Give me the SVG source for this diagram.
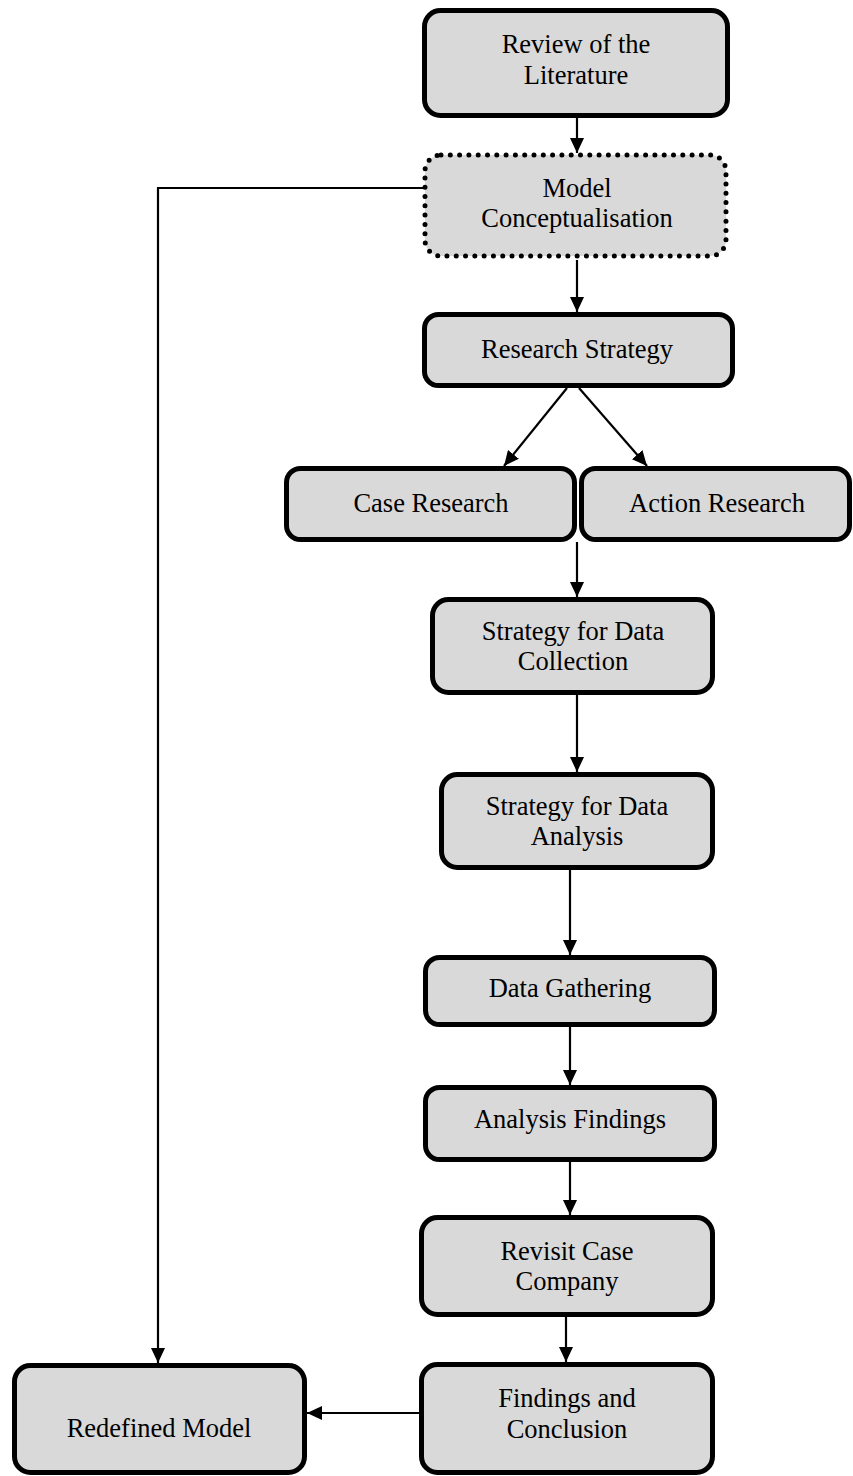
<svg xmlns="http://www.w3.org/2000/svg" width="853" height="1476" viewBox="0 0 853 1476">
  <style>
    .box { fill: #d9d9d9; stroke: #000; stroke-width: 5; }
    .dotted { fill: #d9d9d9; stroke: #000; stroke-width: 5; stroke-dasharray: 0 9.3; stroke-linecap: round; }
    .lbl { font-family: "Liberation Serif", "Times New Roman", serif; font-size: 26.5px; fill: #000; text-anchor: middle; }
    .edge { fill: none; stroke: #000; stroke-width: 2.2; }
  </style>
  <defs>
    <marker id="arrow" markerUnits="userSpaceOnUse" markerWidth="16" markerHeight="14" refX="15" refY="7" orient="auto">
      <path d="M0,0 L15,7 L0,14 Z" fill="#000"/>
    </marker>
  </defs>

  <!-- connectors -->
  <g id="connectors">
    <line class="edge" x1="577" y1="118" x2="577" y2="153" marker-end="url(#arrow)"/>
    <line class="edge" x1="577" y1="260" x2="577" y2="312" marker-end="url(#arrow)"/>
    <line class="edge" x1="567" y1="388" x2="504" y2="466" marker-end="url(#arrow)"/>
    <line class="edge" x1="579" y1="388" x2="647" y2="466" marker-end="url(#arrow)"/>
    <line class="edge" x1="577" y1="542" x2="577" y2="597" marker-end="url(#arrow)"/>
    <line class="edge" x1="577" y1="695" x2="577" y2="772" marker-end="url(#arrow)"/>
    <line class="edge" x1="570" y1="870" x2="570" y2="955" marker-end="url(#arrow)"/>
    <line class="edge" x1="570" y1="1027" x2="570" y2="1085" marker-end="url(#arrow)"/>
    <line class="edge" x1="570" y1="1162" x2="570" y2="1215" marker-end="url(#arrow)"/>
    <line class="edge" x1="566" y1="1317" x2="566" y2="1362" marker-end="url(#arrow)"/>
    <line class="edge" x1="425" y1="1413" x2="307" y2="1413" marker-end="url(#arrow)"/>
    <polyline class="edge" points="423,188 158,188 158,1363" marker-end="url(#arrow)"/>
  </g>

  <g id="review">
    <rect class="box" x="424.5" y="10.5" width="303" height="105" rx="16"/>
    <text class="lbl" x="576" y="53">Review of the</text>
    <text class="lbl" x="576" y="84">Literature</text>
  </g>

  <g id="model">
    <rect class="dotted" x="425" y="155" width="301" height="101" rx="16"/>
    <text class="lbl" x="577" y="197">Model</text>
    <text class="lbl" x="577" y="227">Conceptualisation</text>
  </g>

  <g id="research-strategy">
    <rect class="box" x="424.5" y="314.5" width="308" height="71" rx="14"/>
    <text class="lbl" x="577" y="358">Research Strategy</text>
  </g>

  <g id="case-research">
    <rect class="box" x="286.5" y="468.5" width="288" height="71" rx="14"/>
    <text class="lbl" x="431" y="512">Case Research</text>
  </g>

  <g id="action-research">
    <rect class="box" x="581.5" y="468.5" width="268" height="71" rx="14"/>
    <text class="lbl" x="717" y="512">Action Research</text>
  </g>

  <g id="data-collection">
    <rect class="box" x="432.5" y="599.5" width="280" height="93" rx="16"/>
    <text class="lbl" x="573" y="640">Strategy for Data</text>
    <text class="lbl" x="573" y="670">Collection</text>
  </g>

  <g id="data-analysis">
    <rect class="box" x="441.5" y="774.5" width="271" height="93" rx="16"/>
    <text class="lbl" x="577" y="815">Strategy for Data</text>
    <text class="lbl" x="577" y="845">Analysis</text>
  </g>

  <g id="data-gathering">
    <rect class="box" x="425.5" y="957.5" width="289" height="67" rx="14"/>
    <text class="lbl" x="570" y="997">Data Gathering</text>
  </g>

  <g id="analysis-findings">
    <rect class="box" x="425.5" y="1087.5" width="289" height="72" rx="14"/>
    <text class="lbl" x="570" y="1128">Analysis Findings</text>
  </g>

  <g id="revisit">
    <rect class="box" x="421.5" y="1217.5" width="291" height="97" rx="16"/>
    <text class="lbl" x="567" y="1260">Revisit Case</text>
    <text class="lbl" x="567" y="1290">Company</text>
  </g>

  <g id="findings-conclusion">
    <rect class="box" x="421.5" y="1364.5" width="291" height="108" rx="16"/>
    <text class="lbl" x="567" y="1407">Findings and</text>
    <text class="lbl" x="567" y="1438">Conclusion</text>
  </g>

  <g id="redefined-model">
    <rect class="box" x="14.5" y="1365.5" width="290" height="107" rx="16"/>
    <text class="lbl" x="159" y="1437">Redefined Model</text>
  </g>
</svg>
